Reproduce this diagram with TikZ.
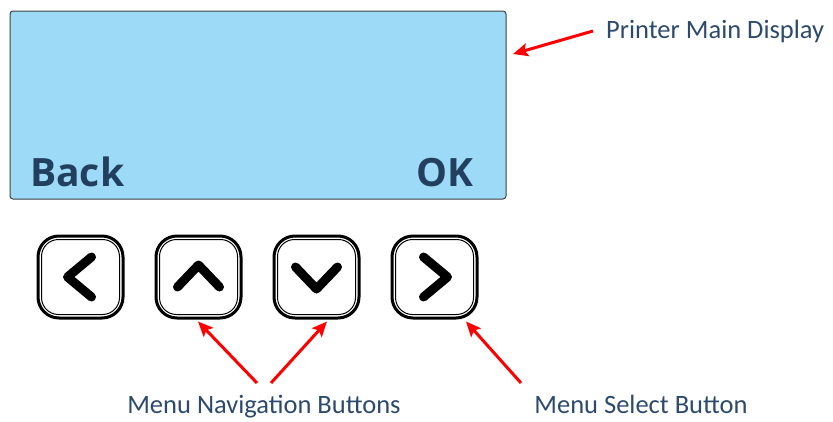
\documentclass[tikz,border=0pt]{standalone}
\usepackage{fontspec}
\setmainfont{Carlito}
\newfontfamily\lcdfont{Open Sans}
\usetikzlibrary{arrows.meta}
\definecolor{lcdblue}{HTML}{9CDAF7}
\definecolor{lcdtext}{HTML}{223F5F}
\definecolor{labeltext}{HTML}{2C4A6E}
\begin{document}
\begin{tikzpicture}[x=1pt, y=-1pt,
    lcd/.style={draw=black!75, line width=1pt, fill=lcdblue, rounded corners=3pt, minimum width=496pt, minimum height=188pt},
    lcdkey/.style={font=\lcdfont\bfseries\fontsize{39}{39}\selectfont, text=lcdtext, inner sep=0pt, anchor=base west},
    button/.style={draw, line width=3pt, rounded corners=21pt, minimum width=85pt, minimum height=82pt},
    chevron/.style={line width=9pt, line cap=round, line join=round},
    pointer/.style={draw=red, line width=3pt, -{Stealth[length=15pt, width=13pt, inset=3pt]}},
    caption/.style={font=\fontsize{26.5}{26.5}\selectfont, text=labeltext, inner sep=0pt, anchor=base}]
  \useasboundingbox (0,0) rectangle (833,421);
  % display
  \node[lcd] (lcd) at (258,105) {};
  \node[lcdkey] (back) at (30,186) {Back};
  \node[lcdkey, anchor=base east] (ok) at (474,186) {OK};
  % buttons
  \foreach \name/\xpos in {left/80.5, up/198.5, down/316.5, right/434.5} {
    \node[button] (\name) at (\xpos,277) {};
    \draw[line width=1pt, rounded corners=17pt]
      ([shift={(5pt,-5pt)}]\name.north west) rectangle ([shift={(-5pt,5pt)}]\name.south east);
  }
  \draw[chevron] ([shift={(11pt,20pt)}]left.center) -- ([shift={(-13pt,0pt)}]left.center) -- ([shift={(11pt,-20pt)}]left.center);
  \draw[chevron] ([shift={(-21pt,-10pt)}]up.center) -- ([shift={(0pt,12pt)}]up.center) -- ([shift={(21pt,-10pt)}]up.center);
  \draw[chevron] ([shift={(-21pt,10pt)}]down.center) -- ([shift={(0pt,-12pt)}]down.center) -- ([shift={(21pt,10pt)}]down.center);
  \draw[chevron] ([shift={(-11pt,20pt)}]right.center) -- ([shift={(13pt,0pt)}]right.center) -- ([shift={(-11pt,-20pt)}]right.center);
  % labels and arrows
  \node[caption, anchor=base west] (maindisp) at (606,38) {Printer Main Display};
  \node[caption] (navbtn) at (264,413) {Menu Navigation Buttons};
  \node[caption] (selbtn) at (641,413) {Menu Select Button};
  \coordinate (dispfrom) at (593,31);
  \coordinate (nav1from) at (257,383);
  \coordinate (nav2from) at (271,383);
  \coordinate (selfrom) at (521,383);
  \draw[pointer] (dispfrom) -- (513,54);
  \draw[pointer] (nav1from) -- ([shift={(-0.5pt,-2pt)}]up.south);
  \draw[pointer] (nav2from) -- ([shift={(10.5pt,-2pt)}]down.south);
  \draw[pointer] (selfrom) -- ([shift={(31.5pt,-2pt)}]right.south);
\end{tikzpicture}
\end{document}
